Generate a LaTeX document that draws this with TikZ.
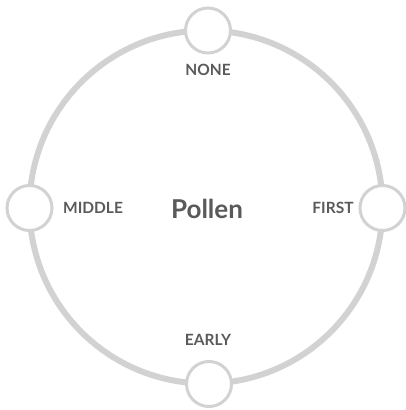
\documentclass[tikz,border=0pt]{standalone}
\usepackage{fontspec}
\setmainfont{Lato}
\definecolor{ringgray}{HTML}{D2D2D2}
\definecolor{txtgray}{HTML}{5A5A5A}
\begin{document}
\begin{tikzpicture}[x=1pt,y=-1pt,
  ring/.style={draw=ringgray,line width=6pt},
  dot/.style={circle,draw=ringgray,line width=3pt,fill=white,minimum size=45pt,inner sep=0pt},
  lbl/.style={text=txtgray,font=\bfseries\fontsize{15.5}{15.5}\selectfont,inner sep=0pt},
  title/.style={text=txtgray,font=\bfseries\fontsize{26}{26}\selectfont,inner sep=0pt}]
\useasboundingbox (0,0) rectangle (406,410);
\coordinate (c) at (206,207);
\draw[ring] (c) circle (176.5pt);
\node[dot] (none) at (208,30.5) {};
\node[dot] (middle) at (29.5,208) {};
\node[dot] (first) at (382.5,208) {};
\node[dot] (early) at (209,384) {};
\node[lbl] (lnone) at (208,70) {NONE};
\node[lbl] (lmiddle) at (93,208) {MIDDLE};
\node[lbl] (lfirst) at (333,208) {FIRST};
\node[lbl] (learly) at (208,340) {EARLY};
\node[title] (pollen) at (207,209) {Pollen};
\end{tikzpicture}
\end{document}
